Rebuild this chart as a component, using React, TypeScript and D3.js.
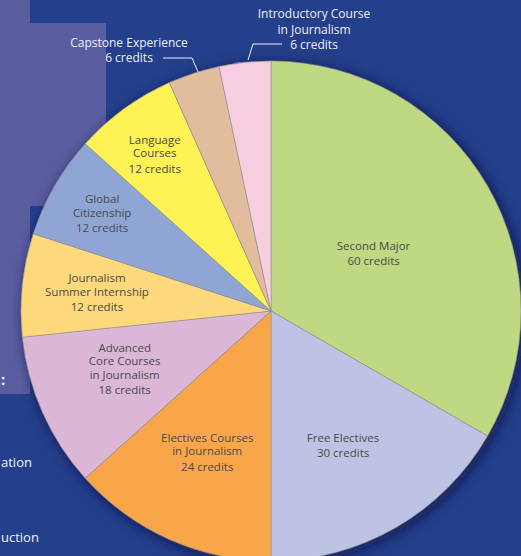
import React from "react";
import * as d3 from "d3";

const categories = [
  "Second Major",
  "Free Electives",
  "Electives Courses in Journalism",
  "Advanced Core Courses in Journalism",
  "Journalism Summer Internship",
  "Global Citizenship",
  "Language Courses",
  "Capstone Experience",
  "Introductory Course in Journalism",
];
const credits = [60, 30, 24, 18, 12, 12, 12, 6, 6];
const colors = [
  "#bed982",
  "#bfc3e3",
  "#f9a64b",
  "#dbb6d6",
  "#fdd97b",
  "#8fa6d4",
  "#fef254",
  "#e2bd9d",
  "#f7cde0",
];
const labelLines = [
  ["Second Major"],
  ["Free Electives"],
  ["Electives Courses", "in Journalism"],
  ["Advanced", "Core Courses", "in Journalism"],
  ["Journalism", "Summer Internship"],
  ["Global", "Citizenship"],
  ["Language", "Courses"],
  ["Capstone Experience"],
  ["Introductory Course", "in Journalism"],
];
// label centre: [radius fraction, angle offset in degrees from slice middle]
const labelPlacement: [number, number][] = [
  [0.47, 0.8],
  [0.61, 1.8],
  [0.62, 0.3],
  [0.63, 2.3],
  [0.7, 0],
  [0.78, 0],
  [0.78, -0.6],
];

const W = 521;
const H = 556;
const cx = 271;
const cy = 311;
const R = 250;

export default function App() {
  const pie = d3
    .pie<number>()
    .sort(null)
    .value((d) => d)
    .startAngle(0)
    .endAngle(2 * Math.PI);
  const arcs = pie(credits);
  const arcGen = d3.arc<d3.PieArcDatum<number>>().innerRadius(0).outerRadius(R);

  const font = "'Open Sans', 'Noto Sans', sans-serif";
  const fs = 11.5;
  const fsOut = 12;

  return (
    <svg
      width={W}
      height={H}
      style={{ position: "absolute", left: 0, top: 0, display: "block" }}
    >
      <defs>
        <filter id="shadow" x="-20%" y="-20%" width="140%" height="140%">
          <feDropShadow dx="3" dy="3" stdDeviation="7" floodColor="#0b1438" floodOpacity="0.75" />
        </filter>
      </defs>
      <rect x={0} y={0} width={W} height={H} fill="#243f8b" />
      <rect x={0} y={23} width={106} height={183} fill="#5a5da0" />
      <rect x={0} y={0} width={30} height={394} fill="#5a5da0" />
      <text x={1} y={385} fill="#ffffff" fontFamily={font} fontSize={15} fontWeight={700}>
        :
      </text>
      <text x={1} y={467} fill="#f2f3fa" fontFamily={font} fontSize={13}>
        ation
      </text>
      <text x={1} y={542} fill="#f2f3fa" fontFamily={font} fontSize={13}>
        uction
      </text>

      <g transform={`translate(${cx},${cy})`}>
        <g filter="url(#shadow)">
          {arcs.map((a, i) => (
            <path key={i} d={arcGen(a) || ""} fill={colors[i]} stroke="#8a8a8a" strokeWidth={0.5} />
          ))}
        </g>
        {arcs.slice(0, 7).map((a, i) => {
          const [rf, off] = labelPlacement[i];
          const ang = (a.startAngle + a.endAngle) / 2 + (off * Math.PI) / 180;
          const x = Math.sin(ang) * R * rf;
          const y = -Math.cos(ang) * R * rf;
          const names = labelLines[i];
          const n = names.length;
          const total = (n - 1) * 13.5 + 15.5;
          const top = y - total / 2 + 4;
          return (
            <text key={i} textAnchor="middle" fill="#4a4a4a" fontFamily={font} fontSize={fs}>
              {names.map((l, j) => (
                <tspan key={j} x={x} y={top + j * 13.5}>
                  {l}
                </tspan>
              ))}
              <tspan x={x} y={top + (n - 1) * 13.5 + 15.5}>{`${credits[i]} credits`}</tspan>
            </text>
          );
        })}
      </g>

      {/* outside labels */}
      <text textAnchor="middle" fill="#eef0fa" fontFamily={font} fontSize={fsOut}>
        <tspan x={129} y={46.5}>{labelLines[7][0]}</tspan>
        <tspan x={129} y={62}>{`${credits[7]} credits`}</tspan>
      </text>
      <path d="M163,58 L192,58 L198,72" fill="none" stroke="#eef0fa" strokeWidth={1} />
      <text textAnchor="middle" fill="#eef0fa" fontFamily={font} fontSize={fsOut}>
        <tspan x={314} y={17.5}>{labelLines[8][0]}</tspan>
        <tspan x={314} y={33.5}>{labelLines[8][1]}</tspan>
        <tspan x={314} y={49}>{`${credits[8]} credits`}</tspan>
      </text>
      <path d="M282,44 L253,44 L248,60" fill="none" stroke="#eef0fa" strokeWidth={1} />
    </svg>
  );
}
